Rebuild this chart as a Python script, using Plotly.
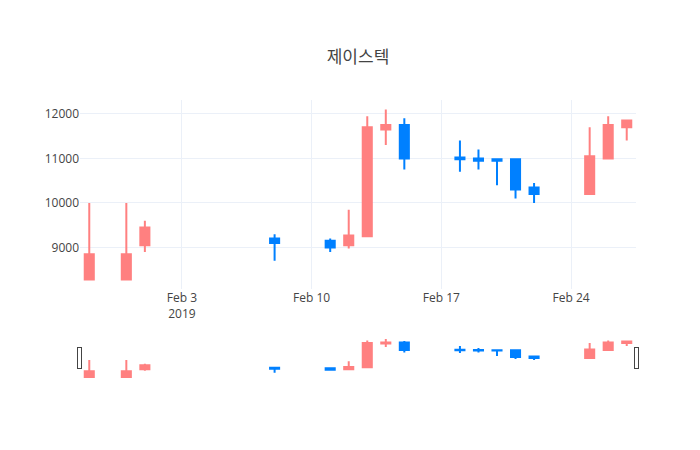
import plotly.graph_objects as go

dates = ["2019-01-29", "2019-01-31", "2019-02-01", "2019-02-08", "2019-02-11",
         "2019-02-12", "2019-02-13", "2019-02-14", "2019-02-15", "2019-02-18",
         "2019-02-19", "2019-02-20", "2019-02-21", "2019-02-22", "2019-02-25",
         "2019-02-26", "2019-02-27"]
open_ = [8280, 8280, 9050, 9200, 9150, 9050, 9250, 11650, 11750, 11020,
         11000, 10980, 10980, 10350, 10200, 11000, 11700]
high = [10000, 10000, 9600, 9300, 9200, 9850, 11950, 12100, 11900, 11400,
        11200, 10980, 11000, 10450, 11700, 11950, 11850]
low = [8280, 8280, 8900, 8700, 8900, 8980, 9250, 11300, 10750, 10700,
       10750, 10400, 10100, 10000, 10200, 11000, 11400]
close = [8850, 8850, 9450, 9100, 9000, 9270, 11700, 11750, 11000, 10980,
         10950, 10950, 10300, 10200, 11050, 11750, 11850]

fig = go.Figure()
fig.add_trace(go.Candlestick(
    x=dates, open=open_, high=high, low=low, close=close,
    increasing=dict(line=dict(color="#FF8080"), fillcolor="#FF8080"),
    decreasing=dict(line=dict(color="#0080FF"), fillcolor="#0080FF"),
    showlegend=False,
))

fig.update_layout(
    template="plotly_white",
    title=dict(text="제이스텍", x=0.5, y=0.905,
               font=dict(family="Noto Sans CJK KR", size=17)),
    font=dict(family="Open Sans", color="#444"),
    width=700, height=450,
    margin=dict(l=72, r=72, t=92),
    xaxis=dict(rangeslider=dict(visible=True)),
    yaxis=dict(tickformat="d"),
)

fig.write_html("out.html")
